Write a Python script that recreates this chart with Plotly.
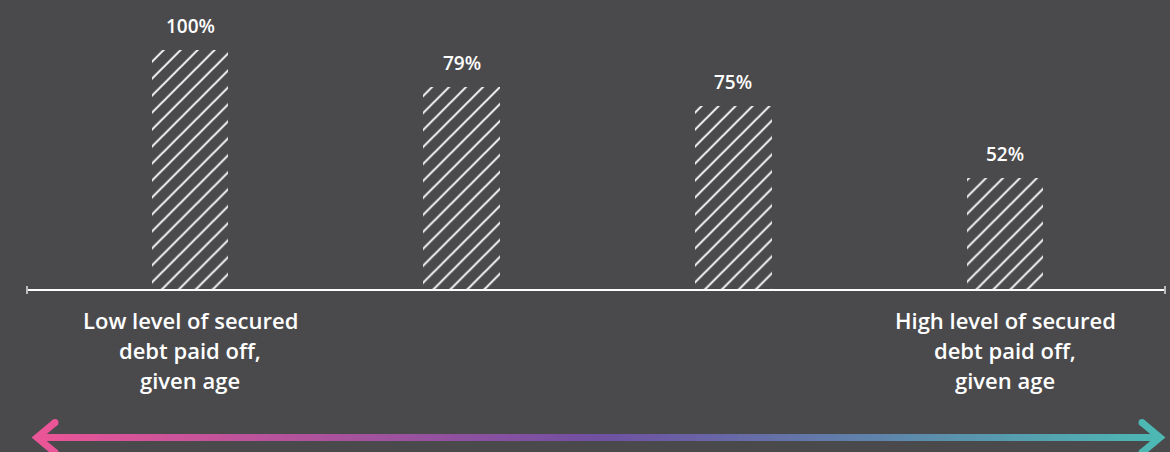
import plotly.graph_objects as go

# ---- data ----
categories = ["Q1", "Q2", "Q3", "Q4"]
bar_heights = [100, 84.6, 76.7, 46.7]          # heights as drawn
bar_labels = ["100%", "79%", "75%", "52%"]      # value labels shown
left_caption = ["Low level of secured", "debt paid off,", "given age"]
right_caption = ["High level of secured", "debt paid off,", "given age"]

BG = "#4a4a4c"
W, H = 1170, 452
ML, MR, MT, MB = 27, 5, 0, 162
PW, PH = W - ML - MR, H - MT - MB


def px(x):
    return (x - ML) / PW


def py(y):
    return (H - MB - y) / PH


fig = go.Figure()
fig.add_trace(go.Bar(
    x=list(range(len(categories))),
    y=bar_heights,
    width=0.283,
    marker=dict(
        color="rgba(0,0,0,0)",
        line=dict(width=0),
        pattern=dict(shape="/", fgcolor="#ffffff", bgcolor="rgba(0,0,0,0)",
                     size=12, solidity=0.16, fgopacity=1),
    ),
    hoverinfo="skip",
))

annotations = []
for i, (h, t) in enumerate(zip(bar_heights, bar_labels)):
    annotations.append(dict(x=i, y=h, xref="x", yref="y", text=t, showarrow=False,
                            xanchor="center", yanchor="bottom", yshift=9,
                            font=dict(family="Open Sans", size=19, color="#ffffff", weight=600)))

shapes = []
# baseline axis
shapes.append(dict(type="line", xref="paper", yref="paper", x0=px(27), x1=px(1165),
                   y0=py(290), y1=py(290), line=dict(color="#ffffff", width=2)))
for xe in (27, 1165):
    shapes.append(dict(type="line", xref="paper", yref="paper", x0=px(xe), x1=px(xe),
                       y0=py(286), y1=py(294), line=dict(color="#bbbbbb", width=2)))


# gradient arrow
def hex2rgb(h):
    h = h.lstrip("#")
    return tuple(int(h[i:i + 2], 16) for i in (0, 2, 4))


stops = [(0.0, hex2rgb("#ea5597")), (0.5, hex2rgb("#7050a2")), (1.0, hex2rgb("#4db7b3"))]


def col(t):
    for (t0, c0), (t1, c1) in zip(stops[:-1], stops[1:]):
        if t <= t1:
            f = (t - t0) / (t1 - t0)
            return "rgb(%d,%d,%d)" % tuple(round(a + (b - a) * f) for a, b in zip(c0, c1))
    return "rgb(%d,%d,%d)" % stops[-1][1]


x_start, x_end, y_ar = 38, 1158, 437.5
N = 160
seg = (x_end - x_start) / N
for i in range(N):
    xa = x_start + i * seg
    xb = xa + seg + 1
    shapes.append(dict(type="rect", xref="paper", yref="paper",
                       x0=px(xa), x1=px(xb), y0=py(y_ar - 3.5), y1=py(y_ar + 3.5),
                       fillcolor=col(i / (N - 1)), line=dict(width=0), layer="above"))

# arrowheads
for tip, sgn, c in ((37, 1, col(0)), (1160, -1, col(1))):
    path = "M {} {} L {} {} L {} {}".format(
        px(tip + sgn * 18), py(y_ar - 15), px(tip), py(y_ar), px(tip + sgn * 18), py(y_ar + 15))
    shapes.append(dict(type="path", xref="paper", yref="paper", path=path,
                       line=dict(color=c, width=7), layer="above"))
    for yy in (y_ar - 15, y_ar + 15):
        shapes.append(dict(type="circle", xref="paper", yref="paper",
                           x0=px(tip + sgn * 18 - 3.5), x1=px(tip + sgn * 18 + 3.5),
                           y0=py(yy - 3.5), y1=py(yy + 3.5), fillcolor=c,
                           line=dict(width=0), layer="above"))

line_y = [320, 350, 380]
for cx, lines in ((190, left_caption), (1005, right_caption)):
    for yy, t in zip(line_y, lines):
        annotations.append(dict(x=px(cx), y=py(yy), xref="paper", yref="paper",
                                text=t, showarrow=False, xanchor="center", yanchor="middle",
                                font=dict(family="Open Sans", size=22, color="#ffffff", weight=600)))

fig.update_layout(
    width=W, height=H,
    margin=dict(l=ML, r=MR, t=MT, b=MB),
    paper_bgcolor=BG, plot_bgcolor=BG,
    showlegend=False,
    xaxis=dict(range=[-0.6, 3.589], visible=False, fixedrange=True),
    yaxis=dict(range=[0, 100 * PH / 240], visible=False, fixedrange=True),
    shapes=shapes, annotations=annotations,
    bargap=0,
)

fig.write_html("out.html", config={"displayModeBar": False},
               post_script="document.body.style.margin='0';document.body.style.background='%s';" % BG)
